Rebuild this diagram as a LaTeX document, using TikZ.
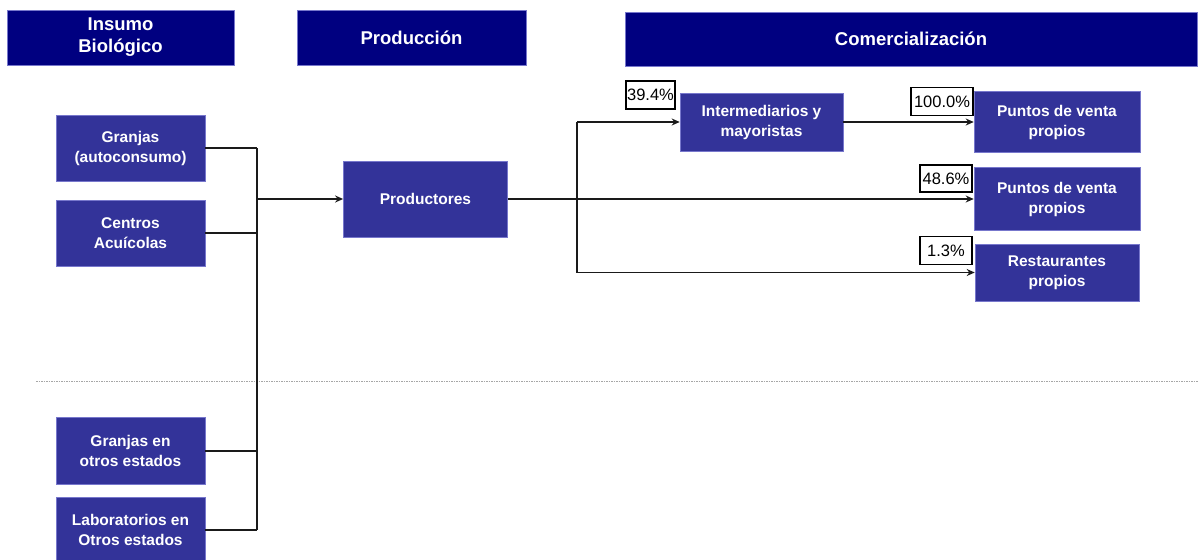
\documentclass[tikz,border=0pt]{standalone}
\usepackage{fontspec}
\setmainfont{Liberation Sans}
\usetikzlibrary{arrows.meta}
\definecolor{headnavy}{HTML}{000080}
\definecolor{boxblue}{HTML}{333399}
\definecolor{boxedge}{HTML}{7777CC}
\definecolor{lineink}{HTML}{1A1A1A}
\tikzset{
  header/.style={fill=headnavy, draw=boxedge, line width=0.6pt, text=white,
    font=\fontsize{18.5}{22}\selectfont\bfseries, align=center, inner sep=0pt},
  stage/.style={fill=boxblue, draw=boxedge, line width=0.6pt, text=white,
    font=\fontsize{15.5}{20}\selectfont\bfseries, align=center, inner sep=0pt},
  share/.style={fill=white, draw=black, line width=1.6pt, text=black,
    font=\fontsize{16.5}{18}\selectfont, inner sep=0pt},
  link/.style={draw=lineink, line width=1.8pt},
  flow/.style={link, -{Stealth[length=8pt,width=7pt]}},
  divider/.style={draw=gray!70, line width=0.8pt, dash pattern=on 1.5pt off 1pt}
}
\begin{document}
\begin{tikzpicture}[x=1pt,y=-1pt]
\useasboundingbox (0,0) rectangle (1198,559);

% column headers
\node[header, minimum width=227pt, minimum height=55pt] (hins) at (120.5,37.5) {Insumo\\Biológico};
\node[header, minimum width=229pt, minimum height=55pt] (hprod) at (411.5,37.5) {Producción};
\node[header, minimum width=572pt, minimum height=54pt] (hcom) at (911,39) {Comercialización};

% biological inputs
\node[stage, minimum width=149pt, minimum height=66pt] (granjas) at (130.5,148.3) {Granjas\\(autoconsumo)};
\node[stage, minimum width=149pt, minimum height=66pt] (centros) at (130.5,233) {Centros\\Acuícolas};
\node[stage, minimum width=149pt, minimum height=67pt] (granjasoe) at (130.5,450.7) {Granjas en\\otros estados};
\node[stage, minimum width=149pt, minimum height=66pt] (labs) at (130.5,530) {Laboratorios en\\Otros estados};

% production
\node[stage, minimum width=164pt, minimum height=76pt] (productores) at (425.4,199) {Productores};

% commercialisation
\node[stage, minimum width=163pt, minimum height=58pt] (inter) at (761.5,122) {Intermediarios y\\mayoristas};
\node[stage, minimum width=166pt, minimum height=61pt] (pv1) at (1057,122) {Puntos de venta\\propios};
\node[stage, minimum width=166pt, minimum height=63pt] (pv2) at (1057,199) {Puntos de venta\\propios};
\node[stage, minimum width=164pt, minimum height=57pt] (rest) at (1057,272.5) {Restaurantes\\propios};

% shares
\node[share, minimum width=49pt, minimum height=28pt] (s39) at (650.5,95) {39.4\%};
\node[share, minimum width=62pt, minimum height=28pt] (s100) at (942,101.5) {100.0\%};
\node[share, minimum width=52pt, minimum height=27pt] (s48) at (946,178.5) {48.6\%};
\node[share, minimum width=52pt, minimum height=28pt] (s13) at (946,250.5) {1.3\%};

% divider between local and other-state inputs
\coordinate (dl) at (36,381);
\coordinate (dr) at (1198,381);
\draw[divider] (dl) -- (dr);

% collector on the input side
\coordinate (lt) at (257,148.3);
\coordinate (lb) at (257,530);
\draw[link] (lt) -- (lb);
\draw[link] (granjas.east) -- (lt);
\draw[link] (centros.east) -- (centros.east -| lt);
\draw[link] (granjasoe.east) -- (granjasoe.east -| lt);
\draw[link] (labs.east) -- (lb);
\draw[flow] (lt |- productores.west) -- (productores.west);

% distribution trunk
\coordinate (rt) at (577,122);
\coordinate (rb) at (577,272.5);
\draw[link] (rt) -- (rb);
\draw[link] (productores.east) -- (productores.east -| rt);
\draw[flow] (rt) -- (inter.west);
\draw[flow] (productores.east -| rt) -- (pv2.west);
\draw[flow] (rb) -- (rest.west);
\draw[flow] (inter.east) -- (pv1.west);
\end{tikzpicture}
\end{document}
